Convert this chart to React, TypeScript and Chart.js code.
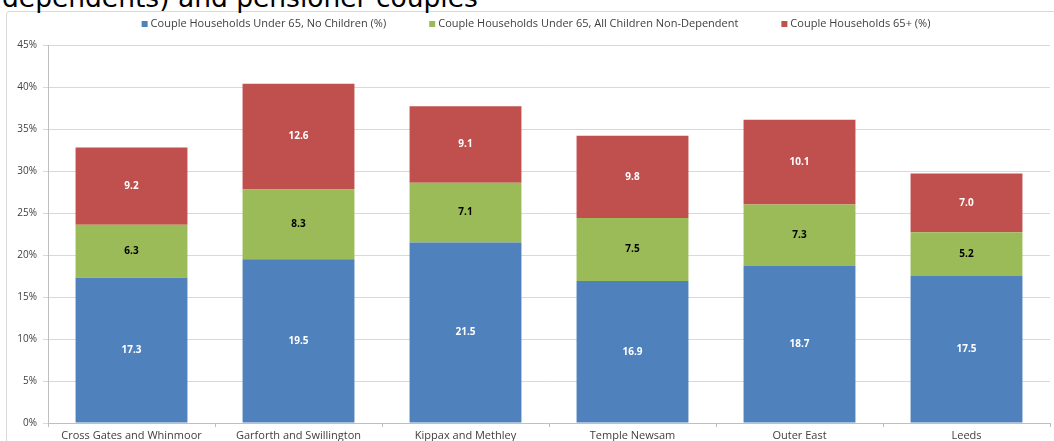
import React, { useEffect, useRef } from "react";
import { Chart, registerables } from "chart.js";

Chart.register(...registerables);

const categories = [
  "Cross Gates and Whinmoor",
  "Garforth and Swillington",
  "Kippax and Methley",
  "Temple Newsam",
  "Outer East",
  "Leeds",
];
const seriesLabels = [
  "Couple Households Under 65, No Children (%)",
  "Couple Households Under 65, All Children Non-Dependent",
  "Couple Households 65+ (%)",
];
const under65NoChildren = [17.3, 19.5, 21.5, 16.9, 18.7, 17.5];
const under65NonDependent = [6.3, 8.3, 7.1, 7.5, 7.3, 5.2];
const couples65Plus = [9.2, 12.6, 9.1, 9.8, 10.1, 7.0];
const seriesColors = ["#4f81bd", "#9bbb59", "#c0504d"];
const labelColors = ["#ffffff", "#000000", "#ffffff"];
const yMax = 45;
const yStep = 5;
const titleText = "dependents) and pensioner couples";

const FONT = "'Open Sans', 'Liberation Sans', sans-serif";

const dataLabelPlugin = {
  id: "dataLabels",
  afterDatasetsDraw(chart: any) {
    const ctx = chart.ctx;
    ctx.save();
    ctx.font = `bold 10px ${FONT}`;
    ctx.textAlign = "center";
    ctx.textBaseline = "middle";
    chart.data.datasets.forEach((ds: any, di: number) => {
      const meta = chart.getDatasetMeta(di);
      meta.data.forEach((el: any, i: number) => {
        const p = el.getProps(["x", "y", "base"], true);
        ctx.fillStyle = labelColors[di];
        ctx.fillText(Number(ds.data[i]).toFixed(1), p.x, (p.y + p.base) / 2);
      });
    });
    ctx.restore();
  },
};

const customLegendPlugin = {
  id: "customLegend",
  afterDraw(chart: any) {
    const ctx = chart.ctx;
    ctx.save();
    ctx.font = `11px ${FONT}`;
    ctx.textBaseline = "middle";
    ctx.textAlign = "left";
    const box = 6;
    const textGap = 3;
    const itemGap = 43;
    const items = chart.data.datasets.map((ds: any) => ({
      label: ds.label,
      color: ds.backgroundColor,
      w: box + textGap + ctx.measureText(ds.label).width,
    }));
    const total =
      items.reduce((s: number, it: any) => s + it.w, 0) + itemGap * (items.length - 1);
    let x = 536 - total / 2;
    const cy = 24;
    items.forEach((it: any) => {
      ctx.fillStyle = it.color;
      ctx.fillRect(x, cy - box / 2, box, box);
      ctx.fillStyle = "#404040";
      ctx.fillText(it.label, x + box + textGap, cy);
      x += it.w + itemGap;
    });
    ctx.restore();
  },
};

export default function App() {
  const canvasRef = useRef<HTMLCanvasElement | null>(null);

  useEffect(() => {
    if (!canvasRef.current) return;
    const chart = new Chart(canvasRef.current, {
      type: "bar",
      data: {
        labels: categories,
        datasets: [
          { label: seriesLabels[0], data: under65NoChildren, backgroundColor: seriesColors[0] },
          { label: seriesLabels[1], data: under65NonDependent, backgroundColor: seriesColors[1] },
          { label: seriesLabels[2], data: couples65Plus, backgroundColor: seriesColors[2] },
        ],
      },
      options: {
        responsive: false,
        animation: false,
        devicePixelRatio: 1,
        layout: { padding: { left: 8, right: 4, top: 45, bottom: 0 } },
        datasets: {
          bar: { categoryPercentage: 1, barPercentage: 0.67 },
        },
        plugins: {
          legend: { display: false },
          tooltip: { enabled: false },
        },
        scales: {
          x: {
            stacked: true,
            afterFit: (s: any) => {
              s.height = 18;
            },
            grid: {
              display: true,
              drawOnChartArea: false,
              drawTicks: true,
              tickLength: 4,
              color: "#bfbfbf",
              offset: true,
            },
            border: { display: true, color: "#bfbfbf" },
            ticks: {
              color: "#404040",
              font: { family: FONT, size: 11 },
              padding: 2,
              maxRotation: 0,
              autoSkip: false,
            },
          },
          y: {
            stacked: true,
            min: 0,
            max: yMax,
            afterFit: (s: any) => {
              s.width = 40;
            },
            grid: { color: "#d9d9d9", tickLength: 5 },
            border: { display: true, color: "#bfbfbf" },
            ticks: {
              stepSize: yStep,
              color: "#404040",
              font: { family: FONT, size: 10 },
              padding: 6,
              callback: (v: any) => `${v}%`,
            },
          },
        },
      },
      plugins: [dataLabelPlugin, customLegendPlugin],
    });
    return () => chart.destroy();
  }, []);

  return (
    <div
      style={{
        position: "absolute",
        left: 0,
        top: 0,
        width: 1054,
        height: 441,
        overflow: "hidden",
        background: "#ffffff",
      }}
    >
      <div
        style={{
          position: "absolute",
          left: 6,
          top: 11,
          width: 1060,
          height: 460,
          border: "1px solid #d9d9d9",
          borderRadius: 3,
          background: "#ffffff",
        }}
      />
      <div
        style={{
          position: "absolute",
          left: 2,
          top: -18,
          fontFamily: "'DejaVu Sans', sans-serif",
          fontSize: 26.5,
          lineHeight: "32px",
          color: "#000000",
          whiteSpace: "nowrap",
        }}
      >
        {titleText}
      </div>
      <canvas
        ref={canvasRef}
        width={1054}
        height={441}
        style={{ position: "absolute", left: 0, top: 0, width: 1054, height: 441 }}
      />
    </div>
  );
}
